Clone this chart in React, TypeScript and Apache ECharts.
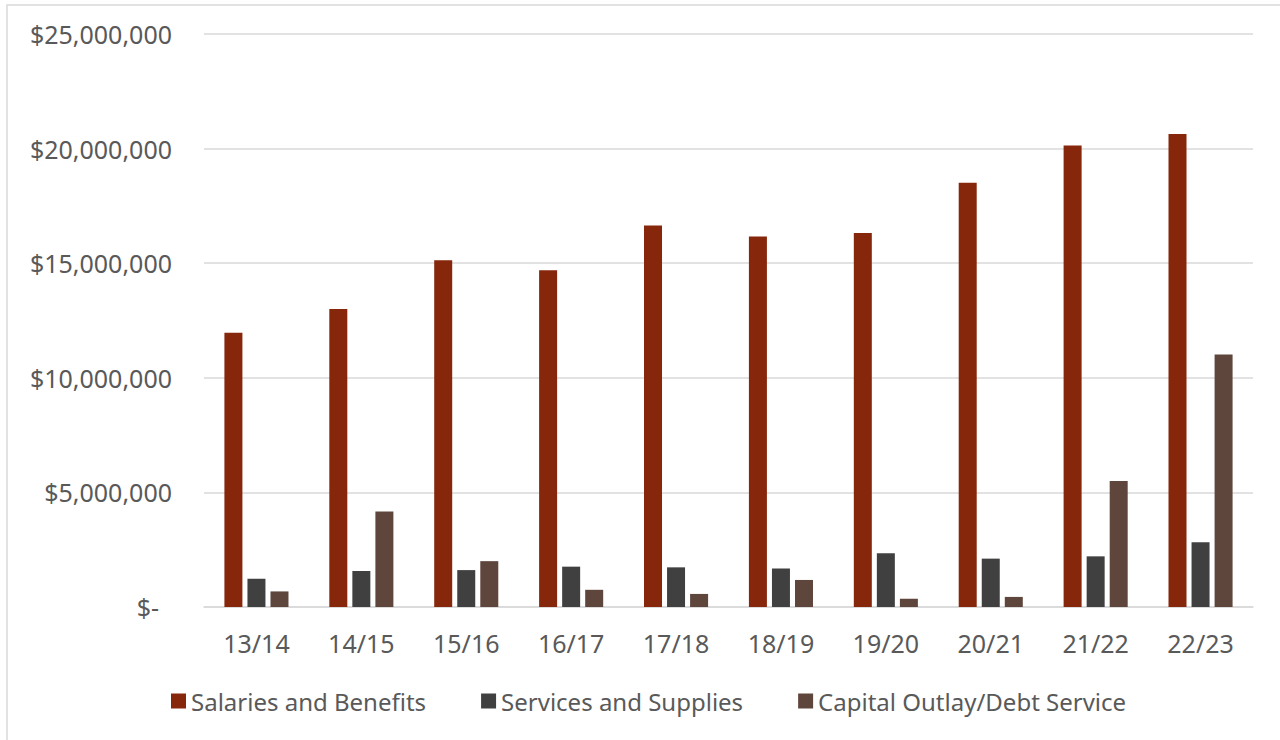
import React, { useEffect, useRef } from "react";
import * as echarts from "echarts";

const categories = ["13/14", "14/15", "15/16", "16/17", "17/18", "18/19", "19/20", "20/21", "21/22", "22/23"];
const salaries = [11970000, 13000000, 15130000, 14690000, 16650000, 16170000, 16320000, 18510000, 20140000, 20640000];
const services = [1230000, 1570000, 1610000, 1760000, 1730000, 1680000, 2340000, 2110000, 2210000, 2820000];
const capital = [680000, 4170000, 2000000, 750000, 570000, 1180000, 360000, 440000, 5500000, 11020000];
const seriesNames = ["Salaries and Benefits", "Services and Supplies", "Capital Outlay/Debt Service"];
const yTicks = { min: 0, max: 25000000, interval: 5000000 };

const FONT = "'Noto Sans', sans-serif";
const TEXT = "#595959";

function fmt(v: number): string {
  if (v === 0) return "{z|$-}";
  return "$" + v.toLocaleString("en-US");
}

export default function App() {
  const ref = useRef<HTMLDivElement>(null);
  useEffect(() => {
    if (!ref.current) return;
    const chart = echarts.init(ref.current, undefined, { renderer: "svg" });
    const bar = (name: string, data: number[], color: string) => ({
      name,
      type: "bar",
      data,
      barWidth: 18,
      barGap: "28%",
      itemStyle: { color },
    });
    chart.setOption({
      animation: false,
      backgroundColor: "#ffffff",
      textStyle: { fontFamily: FONT },
      graphic: [
        {
          type: "rect",
          shape: { x: 7, y: 5, width: 1290, height: 760 },
          style: { fill: "none", stroke: "#D9D9D9", lineWidth: 1.5 },
          silent: true,
        },
      ],
      grid: { left: 204, right: 27, top: 34, bottom: 133, containLabel: false },
      legend: {
        bottom: 22,
        left: 166,
        itemWidth: 15,
        itemHeight: 15,
        itemGap: 55,
        icon: "rect",
        textStyle: { color: TEXT, fontSize: 24, fontFamily: FONT },
        data: seriesNames,
      },
      xAxis: {
        type: "category",
        data: categories,
        axisLine: { show: true, lineStyle: { color: "#D9D9D9", width: 1.5 } },
        axisTick: { show: false },
        axisLabel: { color: TEXT, fontSize: 25, fontFamily: FONT, margin: 23 },
      },
      yAxis: {
        type: "value",
        min: yTicks.min,
        max: yTicks.max,
        interval: yTicks.interval,
        axisLine: { show: false },
        axisTick: { show: false },
        splitLine: { lineStyle: { color: "#D9D9D9", width: 1.5 } },
        axisLabel: {
          color: TEXT,
          fontSize: 25,
          fontFamily: FONT,
          margin: 32,
          formatter: fmt,
          rich: { z: { color: TEXT, fontSize: 25, fontFamily: FONT, padding: [0, 13, 0, 0] } },
        },
      },
      series: [
        bar(seriesNames[0], salaries, "#86260A"),
        bar(seriesNames[1], services, "#404040"),
        bar(seriesNames[2], capital, "#5F463C"),
      ],
    });
    return () => chart.dispose();
  }, []);
  return <div ref={ref} style={{ position: "fixed", left: 0, top: 0, width: 1280, height: 740 }} />;
}
